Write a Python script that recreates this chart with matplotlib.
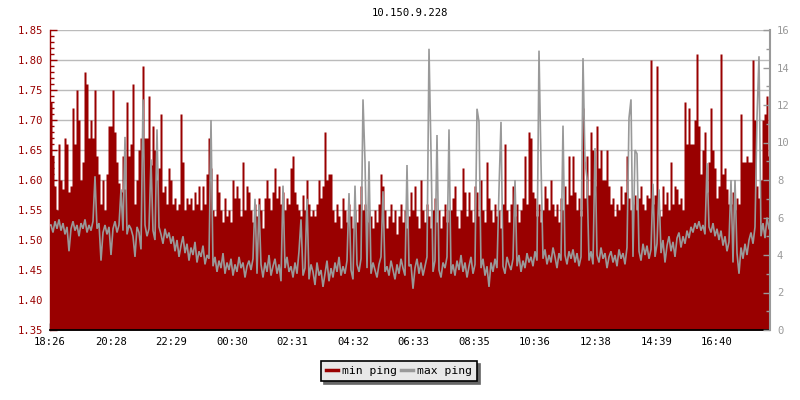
import numpy as np
import matplotlib
matplotlib.use("Agg")
import matplotlib.pyplot as plt
from matplotlib.ticker import MultipleLocator, FormatStrFormatter
from matplotlib.lines import Line2D

title = "10.150.9.228"
series_names = ["min ping", "max ping"]
tick_labels = ["18:26", "20:28", "22:29", "00:30", "02:31", "04:32",
               "06:33", "08:35", "10:36", "12:38", "14:39", "16:40"]
sample_minutes = 4  # one sample every 4 minutes, 24 h span

min_ping = [
    1.73, 1.64, 1.59, 1.55, 1.66, 1.60, 1.585, 1.67, 1.66, 1.58, 1.59, 1.72, 1.66, 1.75, 1.70, 1.60, 1.63, 1.78, 1.76, 1.67,
    1.70, 1.67, 1.75, 1.64, 1.61, 1.56, 1.60, 1.55, 1.61, 1.69, 1.69, 1.75, 1.68, 1.63, 1.595, 1.58, 1.64, 1.585, 1.73, 1.64,
    1.66, 1.76, 1.56, 1.60, 1.65, 1.67, 1.79, 1.67, 1.67, 1.74, 1.625, 1.69, 1.65, 1.60, 1.62, 1.71, 1.58, 1.59, 1.56, 1.62,
    1.60, 1.56, 1.57, 1.55, 1.56, 1.71, 1.63, 1.55, 1.57, 1.56, 1.57, 1.55, 1.58, 1.56, 1.59, 1.55, 1.59, 1.56, 1.61, 1.67,
    1.62, 1.55, 1.54, 1.61, 1.58, 1.55, 1.53, 1.57, 1.54, 1.55, 1.53, 1.60, 1.57, 1.59, 1.57, 1.54, 1.63, 1.55, 1.59, 1.58,
    1.55, 1.53, 1.56, 1.54, 1.57, 1.55, 1.52, 1.57, 1.60, 1.57, 1.55, 1.58, 1.62, 1.57, 1.59, 1.56, 1.58, 1.55, 1.57, 1.56,
    1.62, 1.64, 1.58, 1.56, 1.55, 1.54, 1.575, 1.55, 1.60, 1.56, 1.54, 1.55, 1.54, 1.56, 1.60, 1.57, 1.59, 1.68, 1.60, 1.61,
    1.61, 1.55, 1.53, 1.56, 1.54, 1.52, 1.57, 1.55, 1.53, 1.56, 1.54, 1.52, 1.55, 1.53, 1.56, 1.59, 1.55, 1.56, 1.53, 1.55,
    1.54, 1.52, 1.55, 1.53, 1.56, 1.61, 1.59, 1.55, 1.52, 1.54, 1.56, 1.53, 1.55, 1.51, 1.54, 1.56, 1.53, 1.55, 1.52, 1.54,
    1.58, 1.55, 1.59, 1.54, 1.52, 1.60, 1.55, 1.53, 1.56, 1.54, 1.52, 1.55, 1.57, 1.53, 1.55, 1.52, 1.54, 1.56, 1.53, 1.55,
    1.55, 1.57, 1.59, 1.54, 1.52, 1.55, 1.62, 1.58, 1.54, 1.58, 1.55, 1.53, 1.59, 1.58, 1.54, 1.60, 1.55, 1.53, 1.63, 1.57,
    1.55, 1.53, 1.56, 1.54, 1.55, 1.52, 1.56, 1.66, 1.55, 1.53, 1.56, 1.59, 1.54, 1.56, 1.53, 1.55, 1.57, 1.64, 1.56, 1.68,
    1.67, 1.58, 1.57, 1.54, 1.56, 1.53, 1.55, 1.59, 1.57, 1.55, 1.60, 1.56, 1.54, 1.56, 1.53, 1.57, 1.55, 1.59, 1.56, 1.64,
    1.575, 1.64, 1.58, 1.55, 1.57, 1.54, 1.72, 1.57, 1.64, 1.575, 1.68, 1.65, 1.59, 1.69, 1.62, 1.65, 1.60, 1.60, 1.65, 1.59,
    1.56, 1.57, 1.54, 1.56, 1.55, 1.59, 1.56, 1.58, 1.64, 1.57, 1.55, 1.56, 1.575, 1.55, 1.57, 1.59, 1.56, 1.55, 1.575, 1.57,
    1.80, 1.56, 1.575, 1.79, 1.55, 1.54, 1.59, 1.56, 1.58, 1.55, 1.63, 1.56, 1.59, 1.585, 1.56, 1.57, 1.55, 1.73, 1.66, 1.72,
    1.66, 1.66, 1.70, 1.81, 1.69, 1.61, 1.65, 1.68, 1.58, 1.63, 1.72, 1.65, 1.62, 1.57, 1.59, 1.81, 1.61, 1.62, 1.585, 1.56,
    1.56, 1.58, 1.55, 1.57, 1.56, 1.71, 1.63, 1.63, 1.64, 1.63, 1.63, 1.80, 1.70, 1.59, 1.57, 1.60, 1.70, 1.71, 1.74, 1.64,
]

max_ping = [
    5.6, 5.2, 5.8, 5.4, 5.9, 5.3, 5.7, 5.1, 5.5, 4.2, 5.4, 5.8, 5.3, 5.6, 5.0, 5.7, 5.4, 5.9, 5.2, 5.6,
    5.3, 5.8, 8.2, 5.4, 5.7, 3.7, 5.2, 5.6, 5.1, 5.5, 4.0, 5.4, 5.8, 5.2, 5.6, 7.5, 5.3, 10.3, 5.1, 5.6,
    5.4, 5.0, 3.9, 5.5, 5.2, 4.3, 12.3, 5.6, 5.0, 5.4, 9.1, 5.3, 4.8, 10.7, 5.5, 5.1, 4.6, 5.4, 4.9, 5.2,
    4.6, 5.0, 4.2, 4.8, 3.9, 4.5, 5.0, 4.1, 4.6, 3.7, 4.4, 4.0, 4.7, 3.6, 4.2, 3.9, 4.5, 3.5, 4.0, 3.8,
    11.2, 3.4, 3.9, 3.1, 3.7, 3.3, 4.1, 3.0, 3.6, 3.2, 3.8, 2.9, 3.5, 3.1, 3.9, 3.3, 3.6, 2.8, 3.4, 3.7,
    3.2, 3.8, 7.0, 3.0, 6.7, 3.5, 2.8, 3.6, 3.1, 4.0, 2.9, 3.4, 3.8, 3.0, 3.5, 2.6, 7.7, 3.3, 3.9, 3.1,
    3.4, 2.8, 3.6, 3.0, 4.2, 5.9, 2.9, 3.3, 7.0, 2.7, 3.5, 3.1, 2.4, 3.6, 2.9, 3.2, 2.3, 3.0, 3.7, 2.6,
    3.3, 2.8, 3.6, 3.1, 3.9, 2.9, 3.4, 3.0, 3.7, 7.3, 3.2, 2.7, 7.7, 3.5, 3.1, 3.8, 12.3, 9.0, 3.3, 9.0,
    3.0, 3.6, 3.2, 2.8, 3.5, 3.9, 7.4, 3.1, 3.4, 2.9, 3.7, 3.2, 2.7, 3.5, 3.0, 3.8, 3.3, 2.9, 8.8, 3.4,
    3.5, 2.2, 3.3, 3.8, 3.0, 3.6, 2.9, 3.4, 3.9, 15.0, 9.5, 3.1, 3.7, 10.4, 3.2, 2.8, 3.6, 3.3, 3.9, 10.7,
    3.0, 3.5, 2.9, 3.7, 3.2, 4.0, 3.1, 3.6, 2.8, 3.4, 3.9, 3.0, 3.5, 11.8, 11.1, 3.3, 3.8, 2.9, 3.4, 2.3,
    3.6, 3.1, 3.8, 3.3, 7.5, 11.1, 3.4, 3.0, 3.9, 3.5, 3.2, 3.8, 8.0, 3.4, 4.0, 3.1, 3.7, 3.3, 4.1, 3.6,
    3.9, 3.4, 4.2, 3.7, 14.9, 8.9, 3.8, 4.3, 3.5, 4.0, 3.6, 4.4, 3.9, 3.3, 4.1, 3.7, 10.9, 4.0, 3.5, 4.2,
    3.8, 4.3, 3.6, 4.1, 3.4, 3.9, 14.5, 9.0, 8.1, 3.7, 4.2, 3.5, 9.7, 4.0, 3.6, 4.4, 3.8, 4.1, 3.3, 3.9,
    4.2, 3.6, 4.0, 3.4, 4.3, 3.8, 4.1, 3.5, 4.4, 11.3, 12.3, 3.9, 9.6, 9.4, 4.2, 3.7, 4.6, 4.0, 4.5, 3.8,
    4.3, 7.8, 3.9, 4.6, 7.5, 4.1, 4.8, 3.6, 4.5, 5.0, 4.2, 4.7, 3.9, 4.9, 5.2, 4.4, 5.0, 4.6, 5.3, 4.9,
    5.5, 5.2, 5.7, 5.4, 5.8, 5.3, 5.6, 5.1, 8.9, 5.5, 5.2, 5.7, 5.0, 5.4, 4.8, 5.3, 4.5, 5.0, 4.2, 4.7,
    8.0, 3.6, 8.0, 4.1, 3.0, 4.4, 3.8, 4.6, 4.0, 4.8, 5.2, 4.6, 5.5, 11.3, 14.6, 5.0, 5.7, 4.9, 6.0, 5.4,
]

RED = "#990000"
GRAY = "#999999"
FONT = "DejaVu Sans Mono"
FS = 7.6

plt.rcParams["font.family"] = [FONT, "DejaVu Sans"]

fig = plt.figure(figsize=(8, 4), dpi=100)
ax = fig.add_axes([50 / 800, 70 / 400, 720 / 800, 300 / 400])
ax2 = ax.twinx()

n = len(min_ping)
span = n * sample_minutes
t = np.arange(n + 1) * sample_minutes
red = np.append(min_ping, min_ping[-1])
ax.fill_between(t, 1.35, red, step="post", color=RED, lw=0, zorder=2)

# max ping drawn as a thin line through the sample centres
tc = np.concatenate(([0], np.arange(n) * sample_minutes + sample_minutes / 2, [span]))
gc = np.concatenate(([max_ping[0]], max_ping, [max_ping[-1]]))
ax2.plot(tc, gc, color=GRAY, lw=1.2, zorder=3, solid_joinstyle="miter")

ax.set_xlim(0, span)
ax.set_ylim(1.35, 1.85)
ax2.set_ylim(0, 16)


def to_offset(lbl):
    h, m = map(int, lbl.split(":"))
    h0, m0 = map(int, tick_labels[0].split(":"))
    return ((h * 60 + m) - (h0 * 60 + m0)) % 1440


ax.set_xticks([to_offset(l) for l in tick_labels])
ax.set_xticklabels(tick_labels)

ax.yaxis.set_major_locator(MultipleLocator(0.05))
ax.yaxis.set_minor_locator(MultipleLocator(0.01))
ax.yaxis.set_major_formatter(FormatStrFormatter("%.2f"))
ax2.yaxis.set_major_locator(MultipleLocator(2))
ax2.yaxis.set_minor_locator(MultipleLocator(1))

ax.grid(axis="y", which="major", color="#bbbbbb", lw=1.0, zorder=0)
ax.set_axisbelow(True)

ax.tick_params(axis="y", which="major", direction="in", length=5, width=1,
               color=RED, labelcolor=RED, labelsize=FS, pad=5)
ax.tick_params(axis="y", which="minor", direction="in", length=3, width=1, color=RED)
ax.tick_params(axis="x", which="major", direction="in", length=5, width=1,
               color="black", labelcolor="black", labelsize=FS, pad=5)
ax2.tick_params(axis="y", which="major", direction="in", length=5, width=1,
                color=GRAY, labelcolor=GRAY, labelsize=FS, pad=5)
ax2.tick_params(axis="y", which="minor", direction="in", length=3, width=1, color=GRAY)

for s in ("top", "right"):
    ax.spines[s].set_visible(False)
ax.spines["left"].set_color(RED)
ax.spines["left"].set_linewidth(1.0)
ax.spines["bottom"].set_color("black")
ax.spines["bottom"].set_linewidth(1.3)
ax.spines["bottom"].set_zorder(5)
for s in ("top", "left", "bottom"):
    ax2.spines[s].set_visible(False)
ax2.spines["right"].set_color(GRAY)
ax2.spines["right"].set_linewidth(1.5)

fig.text(410 / 800, 1 - 13 / 400, title, ha="center", va="center",
         fontsize=FS, color="black")

handles = [Line2D([], [], color=RED, lw=2.5), Line2D([], [], color=GRAY, lw=2.5)]
leg = fig.legend(handles, series_names, loc="center",
                 bbox_to_anchor=(399 / 800, 1 - 371 / 400), ncol=2,
                 frameon=True, fancybox=False, edgecolor="black",
                 facecolor="#e8e8e8", framealpha=1,
                 shadow={"color": "#666666", "alpha": 1},
                 handlelength=1.0, handletextpad=0.35, columnspacing=0.4,
                 borderpad=0.45, borderaxespad=0, prop={"family": FONT, "size": FS + 0.6})
leg.get_frame().set_linewidth(1.2)

fig.savefig("out.png", dpi=100)
